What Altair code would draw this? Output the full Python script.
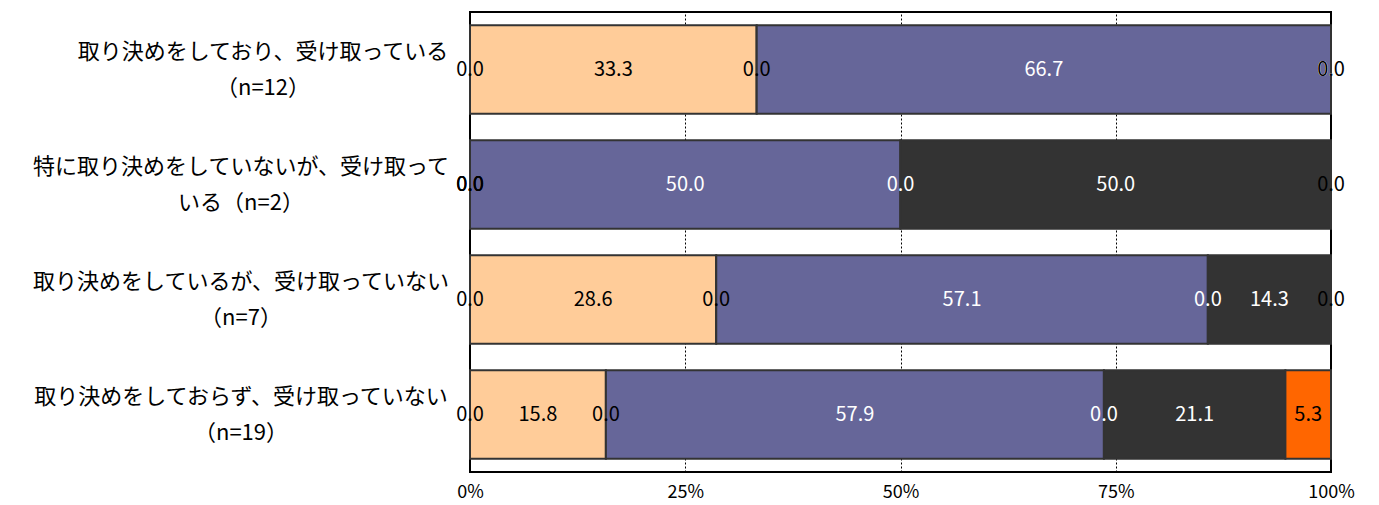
import altair as alt
import pandas as pd

line1 = [
    "取り決めをしており、受け取っている",
    "特に取り決めをしていないが、受け取って",
    "取り決めをしているが、受け取っていない",
    "取り決めをしておらず、受け取っていない",
]
line2 = ["（n=12）", "いる（n=2）", "（n=7）", "（n=19）"]
cats = [a + b for a, b in zip(line1, line2)]

series_names = ["A", "B", "C", "D", "E", "F", "G"]
s_A = [0.0, 0.0, 0.0, 0.0]
s_B = [33.3, 0.0, 28.6, 15.8]
s_C = [0.0, 0.0, 0.0, 0.0]
s_D = [66.7, 50.0, 57.1, 57.9]
s_E = [0.0, 0.0, 0.0, 0.0]
s_F = [0.0, 50.0, 14.3, 21.1]
s_G = [0.0, 0.0, 0.0, 5.3]
series_vals = [s_A, s_B, s_C, s_D, s_E, s_F, s_G]

fill_colors = ["#FFFFFF", "#FFCC99", "#FFFFFF", "#666699", "#FFFFFF", "#333333", "#FF6600"]
text_colors = ["#000000", "#000000", "#000000", "#FFFFFF", "#FFFFFF", "#FFFFFF", "#000000"]

rows = []
for i, cat in enumerate(cats):
    for j, name in enumerate(series_names):
        rows.append({"cat": cat, "series": name, "idx": j, "value": series_vals[j][i]})
df = pd.DataFrame(rows)

lab_df = pd.DataFrame({"cat": cats, "l1": line1, "l2": line2})

FONT = "Noto Sans CJK JP"
xscale = alt.Scale(domain=[0, 1])
yscale = alt.Scale(paddingInner=0.23, paddingOuter=0.115)
y = alt.Y("cat:N", sort=cats, axis=None, scale=yscale)

base = alt.Chart(df).transform_stack(
    stack="value", as_=["x0", "x1"], groupby=["cat"],
    sort=[alt.SortField("idx", order="ascending")], offset="normalize"
).transform_calculate(
    mid="(datum.x0 + datum.x1) / 2",
    label="format(datum.value, '.1f')",
)

bars = base.mark_bar(stroke="#333333", strokeWidth=2).encode(
    x=alt.X("x0:Q", scale=xscale, title=None,
            axis=alt.Axis(values=[0, 0.25, 0.5, 0.75, 1], format=".0%",
                          grid=True, gridDash=[2, 2], gridColor="#000000", gridWidth=1,
                          domain=False, ticks=False, labelPadding=11, labelFlush=False,
                          labelFont=FONT, labelFontSize=18, labelColor="#000000")),
    x2="x1:Q",
    y=y,
    color=alt.Color("series:N", scale=alt.Scale(domain=series_names, range=fill_colors), legend=None),
)

texts = base.mark_text(font=FONT, fontSize=20, baseline="middle").encode(
    x=alt.X("mid:Q", scale=xscale, axis=None),
    y=y,
    text="label:N",
    color=alt.Color("series:N", scale=alt.Scale(domain=series_names, range=text_colors), legend=None),
)

labels = alt.Chart(lab_df).transform_calculate(
    px="-20 - 11 * length(datum.l1)",
    lines="[datum.l1, datum.l2]",
).mark_text(font=FONT, fontSize=22, align="center", baseline="middle", lineHeight=36,
            dy=-18, color="#000000").encode(
    x=alt.X("px:Q", scale=None, axis=None),
    y=y,
    text="lines:N",
)

chart = alt.layer(bars, texts, labels).resolve_scale(
    x="independent", color="independent"
).properties(
    width=861, height=460,
    autosize=alt.AutoSizeParams(type="none"),
    padding={"left": 462, "top": 4, "right": 40, "bottom": 31},
).configure_view(stroke="#000000", strokeWidth=2)

chart.save("out.html", embed_options={"renderer": "svg", "actions": False})
